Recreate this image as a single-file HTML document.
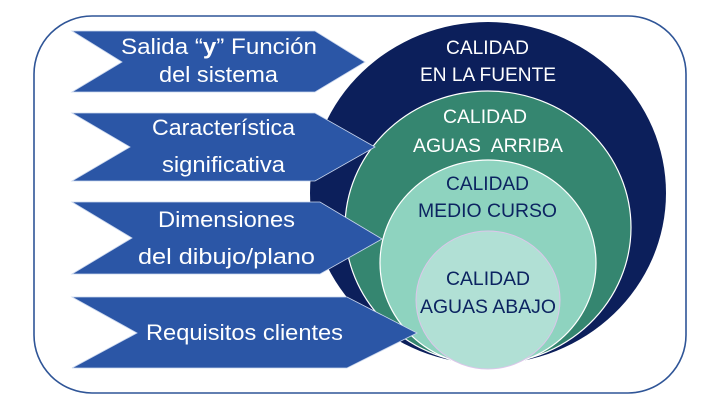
<!DOCTYPE html>
<html><head><meta charset="utf-8"><style>
html,body{margin:0;padding:0;background:#fff;}
svg{display:block;}
text{font-family:"Liberation Sans",Arial,sans-serif;}
</style></head><body>
<svg width="720" height="405" viewBox="0 0 720 405" xmlns="http://www.w3.org/2000/svg">
<rect x="0" y="0" width="720" height="405" fill="#fff"/>
<rect x="34" y="16" width="652" height="377" rx="58" ry="58" fill="none" stroke="#2f5597" stroke-width="1.6"/>

<!-- circles -->
<ellipse cx="488" cy="193" rx="178" ry="171" fill="#0c1f5b"/>
<ellipse cx="488" cy="227.5" rx="143" ry="136.5" fill="#358670" stroke="#ffffff" stroke-width="1.2"/>
<ellipse cx="488" cy="263" rx="108" ry="103" fill="#8ed3bf" stroke="#ffffff" stroke-width="1.2"/>
<ellipse cx="488" cy="300" rx="72" ry="69" fill="#b1e0d5" stroke="#dcc6ea" stroke-width="1"/>

<!-- arrows -->
<g fill="#2b56a6" stroke="#c9d6ee" stroke-width="0.8">
<polygon points="72,31 315,31 365,62 315,92 72,92 122,62"/>
<polygon points="72,113 315,113 375,147 315,181 72,181 130,147"/>
<polygon points="72,202 320,202 382,239 320,274 72,274 132,238"/>
<polygon points="72,297 347,297 417,333 347,368 72,368 137,333"/>
</g>

<!-- arrow text -->
<g fill="#ffffff" font-size="22">
<text x="121" y="54" textLength="196" lengthAdjust="spacingAndGlyphs">Salida “<tspan font-weight="bold">y</tspan>” Función</text>
<text x="159" y="82" textLength="119" lengthAdjust="spacingAndGlyphs">del sistema</text>
<text x="152" y="135" textLength="143" lengthAdjust="spacingAndGlyphs">Característica</text>
<text x="162" y="172" textLength="123" lengthAdjust="spacingAndGlyphs">significativa</text>
<text x="158" y="227" textLength="137" lengthAdjust="spacingAndGlyphs">Dimensiones</text>
<text x="138" y="264" textLength="177" lengthAdjust="spacingAndGlyphs">del dibujo/plano</text>
<text x="146" y="340" textLength="197" lengthAdjust="spacingAndGlyphs">Requisitos clientes</text>
</g>

<!-- circle text -->
<g font-size="19.5">
<text x="446" y="54" fill="#ffffff" textLength="83" lengthAdjust="spacingAndGlyphs">CALIDAD</text>
<text x="420" y="81" fill="#ffffff" textLength="136" lengthAdjust="spacingAndGlyphs">EN LA FUENTE</text>
<text x="443" y="123" fill="#ffffff" textLength="84" lengthAdjust="spacingAndGlyphs">CALIDAD</text>
<text x="413" y="152" fill="#ffffff" textLength="150" lengthAdjust="spacingAndGlyphs" xml:space="preserve">AGUAS  ARRIBA</text>
<text x="446" y="190" fill="#0c2461" textLength="83" lengthAdjust="spacingAndGlyphs">CALIDAD</text>
<text x="418" y="217" fill="#0c2461" textLength="139" lengthAdjust="spacingAndGlyphs">MEDIO CURSO</text>
<text x="446" y="285" fill="#0c2461" textLength="84" lengthAdjust="spacingAndGlyphs">CALIDAD</text>
<text x="420" y="313" fill="#0c2461" textLength="136" lengthAdjust="spacingAndGlyphs">AGUAS ABAJO</text>
</g>
</svg>
</body></html>
